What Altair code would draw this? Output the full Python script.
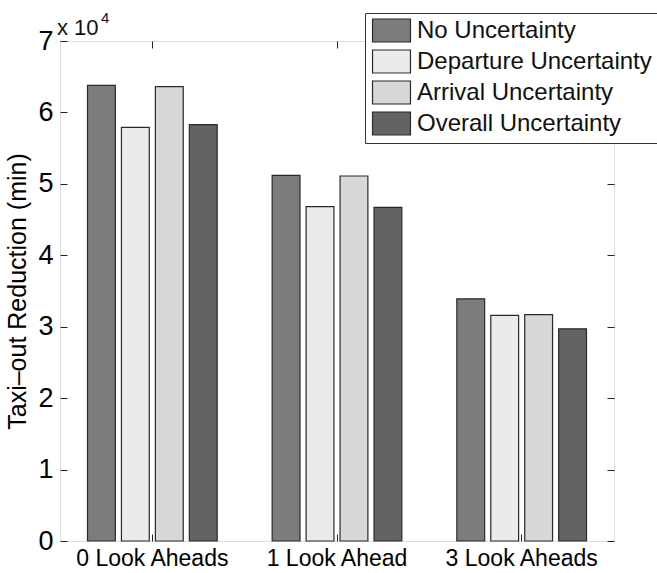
import altair as alt
import pandas as pd

# ---- data (values in units of 10^4 min) ----
groups = ["0 Look Aheads", "1 Look Ahead", "3 Look Aheads"]
series = ["No Uncertainty", "Departure Uncertainty", "Arrival Uncertainty", "Overall Uncertainty"]
no_unc = [6.38, 5.12, 3.39]
dep_unc = [5.79, 4.68, 3.16]
arr_unc = [6.36, 5.11, 3.17]
ovr_unc = [5.83, 4.67, 2.97]
colors = ["#7c7c7c", "#ebebeb", "#d8d8d8", "#636363"]
y_ticks = [0, 1, 2, 3, 4, 5, 6, 7]
y_title = "Taxi–out Reduction (min)"
exp_base = ["x 10"]
exp_power = ["4"]

rows = []
for name, vals in zip(series, [no_unc, dep_unc, arr_unc, ovr_unc]):
    for g, v in zip(groups, vals):
        rows.append({"group": g, "series": name, "value": v})
df = pd.DataFrame(rows)

FONT = "Liberation Sans"
W, H = 554, 500
TICK = 7

x_scale = alt.Scale(domain=groups, paddingInner=0, paddingOuter=0)
y_scale = alt.Scale(domain=[0, 7], nice=False, zero=True)

legend_path = "M-1.65,-1L1.65,-1L1.65,1L-1.65,1Z"

bars = alt.Chart(df).mark_bar(stroke="#2a2a2a", strokeWidth=1.2).encode(
    x=alt.X("group:N", sort=groups, scale=x_scale,
            axis=alt.Axis(orient="bottom", title=None, labelAngle=0, domain=False,
                          offset=-TICK, tickSize=TICK, tickColor="#222",
                          labelPadding=6, labelFontSize=23, grid=False)),
    xOffset=alt.XOffset("series:N", sort=series,
                        scale=alt.Scale(domain=series, paddingInner=0.18, paddingOuter=0.81)),
    y=alt.Y("value:Q", scale=y_scale,
            axis=alt.Axis(orient="left", values=y_ticks, title=y_title, domain=False,
                          offset=-TICK, tickSize=TICK, tickColor="#222",
                          labelPadding=7, labelFontSize=27, grid=False,
                          titleFontSize=25, titleFontWeight="normal",
                          titleX=-37, titleY=H / 2)),
    color=alt.Color("series:N", sort=series, scale=alt.Scale(domain=series, range=colors),
                    legend=alt.Legend(orient="none", legendX=305, legendY=-28, title=None,
                                      symbolType=legend_path, symbolSize=529,
                                      symbolStrokeColor="#2a2a2a", symbolStrokeWidth=1.2,
                                      symbolOpacity=1,
                                      labelFontSize=24, labelFont=FONT, labelColor="#111",
                                      labelOffset=13, rowPadding=2, labelLimit=0,
                                      padding=5, strokeColor="#333", fillColor="white",
                                      symbolOffset=9)),
)

frame_axes = alt.Chart(df).mark_bar(opacity=0).encode(
    x=alt.X("group:N", sort=groups, scale=x_scale,
            axis=alt.Axis(orient="top", title=None, labels=False, domain=False,
                          offset=-TICK, tickSize=TICK, tickColor="#222", grid=False)),
    y=alt.Y("value:Q", scale=y_scale,
            axis=alt.Axis(orient="right", values=y_ticks, title=None, labels=False, domain=False,
                          offset=-TICK, tickSize=TICK, tickColor="#222", grid=False)),
)

exp_text = alt.Chart(pd.DataFrame({"t": exp_base})).mark_text(
    align="left", baseline="alphabetic", fontSize=22, font=FONT, color="#111"
).encode(x=alt.value(-3), y=alt.value(-6), text="t:N")

pow_text = alt.Chart(pd.DataFrame({"t": exp_power})).mark_text(
    align="left", baseline="alphabetic", fontSize=15, font=FONT, color="#111"
).encode(x=alt.value(41), y=alt.value(-18), text="t:N")

chart = alt.layer(bars, frame_axes, exp_text, pow_text).resolve_scale(
    x="independent", y="independent"
).properties(
    width=W, height=H,
    autosize=alt.AutoSizeParams(type="none"),
    padding={"left": 60, "top": 41, "right": 43, "bottom": 32},
).configure_view(
    stroke="#333", strokeWidth=1.2
).configure_axis(
    labelFont=FONT, titleFont=FONT, labelColor="#111", titleColor="#111"
).configure(background="white")

chart.save("out.html", embed_options={"renderer": "svg", "actions": False})
